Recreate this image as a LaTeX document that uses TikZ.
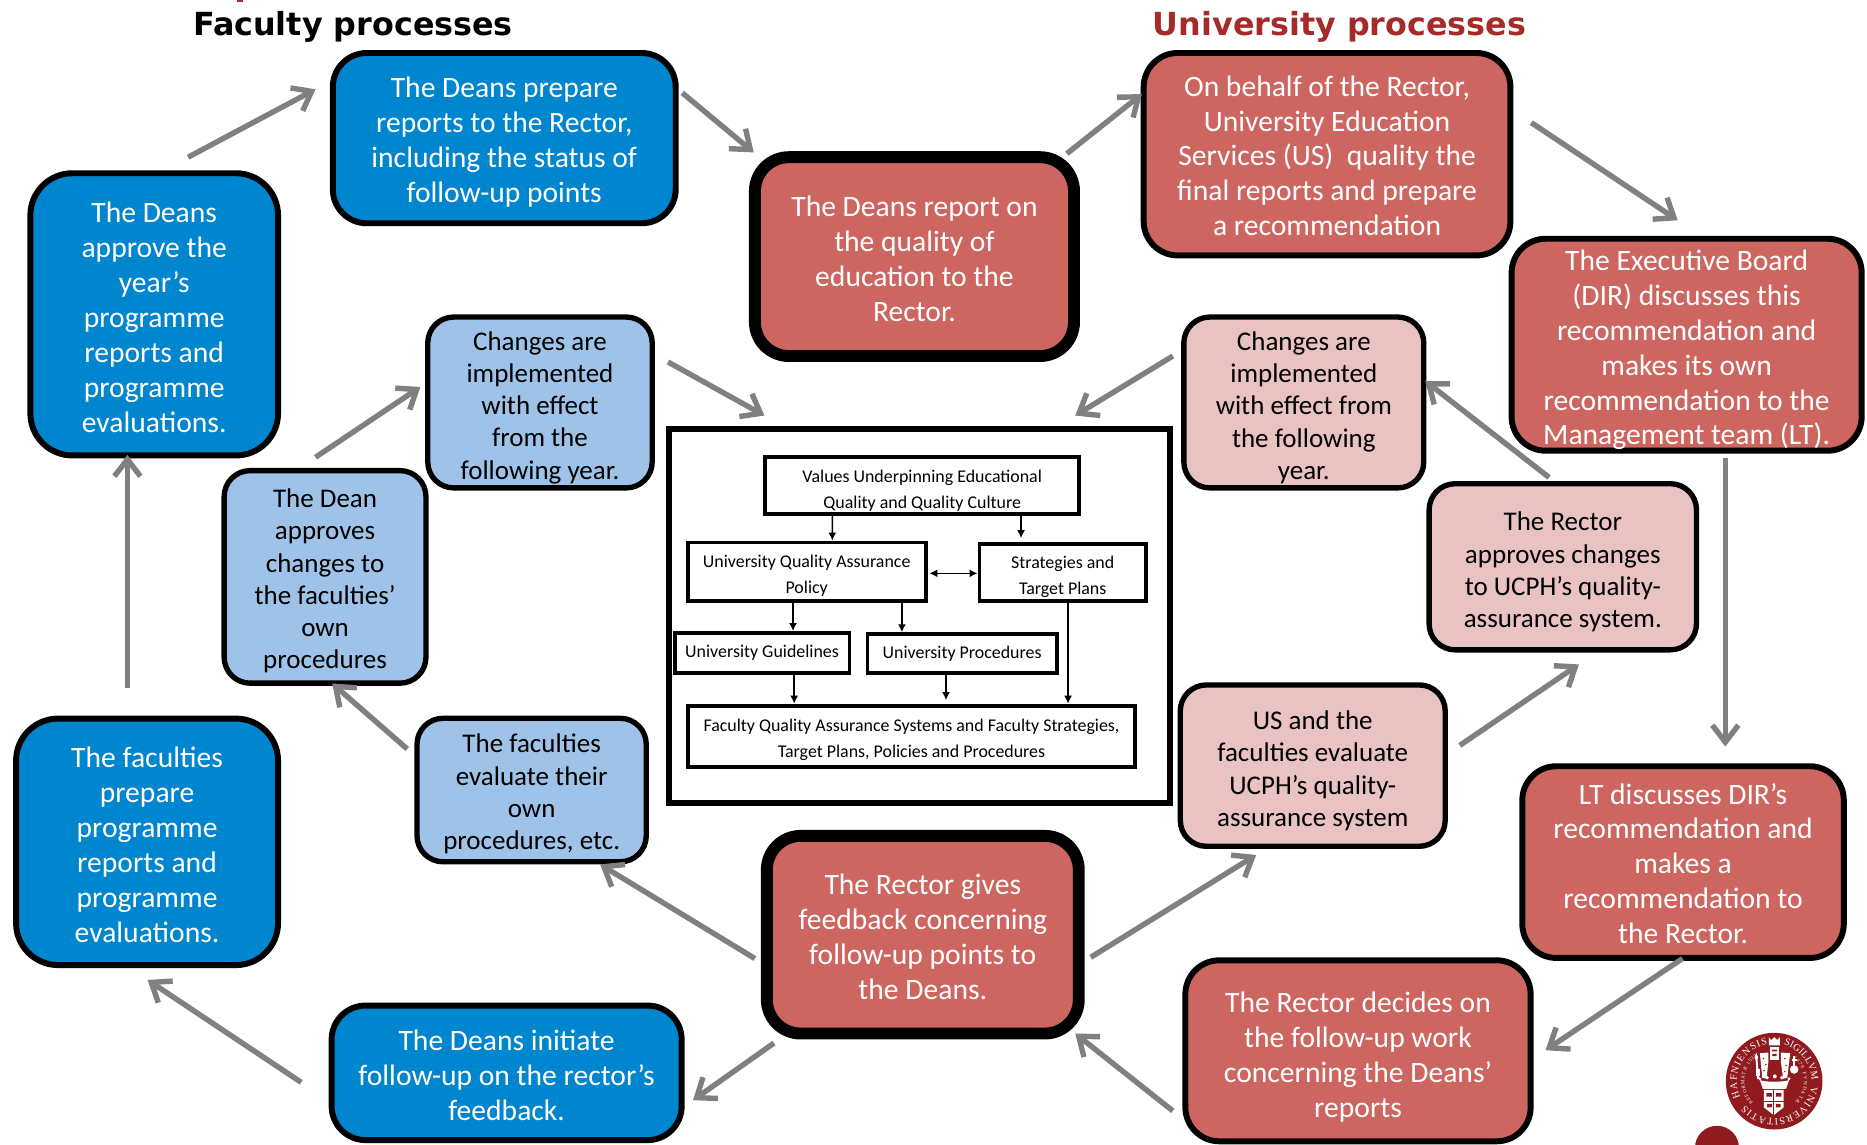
\documentclass[tikz,border=0pt]{standalone}
\usepackage{fontspec}
\setmainfont{Carlito}
\newfontfamily\titlefont{DejaVu Sans}
\newfontfamily\sealserif{Liberation Serif}
\usetikzlibrary{arrows.meta,decorations.text}
\definecolor{deepblue}{HTML}{0085CF}
\definecolor{softblue}{HTML}{9FC3E8}
\definecolor{brickred}{HTML}{CD6660}
\definecolor{softpink}{HTML}{E9C2C2}
\definecolor{arrowgray}{HTML}{808080}
\definecolor{titlered}{HTML}{A52A2A}
\definecolor{sealred}{HTML}{901A1E}
\newcommand{\procbox}[8]{%
  \node[#7,line width=#6*0.59535pt,
    minimum width={(#4-#2-#6)*0.59535pt},
    minimum height={(#5-#3-#6)*0.59535pt}] (#1) at ({(#2+#4)/2},{(#3+#5)/2}) {#8};}
\newcommand{\up}[1]{\rule{0pt}{#1pt}}
\tikzset{
  basebox/.style={draw=black,rounded corners=17pt,inner sep=0pt,align=center,
    font=\fontsize{14.8}{17.45}\selectfont},
  bluebox/.style={basebox,fill=deepblue,text=white},
  bigbluebox/.style={bluebox,rounded corners=21pt},
  redbox/.style={basebox,fill=brickred,text=white},
  lightbluebox/.style={basebox,fill=softblue,text=black,rounded corners=13pt,
    font=\fontsize{13.5}{16.1}\selectfont},
  pinkbox/.style={basebox,fill=softpink,text=black,rounded corners=13pt,
    font=\fontsize{13.5}{16.1}\selectfont},
  flow/.style={draw=arrowgray,line width=2.7pt,-{Straight Barb[length=8.5pt,width=13pt]}},
  innerbox/.style={draw=black,fill=white,inner sep=0pt,align=center,
    font=\fontsize{8.95}{13}\selectfont},
  frame/.style={draw=black,fill=white,inner sep=0pt},
  innerflow/.style={draw=black,line width=0.8pt,-{Latex[length=4pt,width=4pt]}},
  titletext/.style={font=\titlefont\bfseries\fontsize{15.9}{20}\selectfont,inner sep=0pt},
}
\begin{document}
\begin{tikzpicture}[x=0.59535pt,y=-0.59535pt]
\useasboundingbox (0,0) rectangle (1568,960.8);
\clip (0,0) rectangle (1568,960.8);
% cropped remnant of a heading at the top edge
\fill[titlered] (199,0) rectangle (204,1.5);
% titles
\node[titletext,text=black] (facT) at (296.5,22.5) {Faculty processes};
\node[titletext,text=titlered] (uniT) at (1125,22.5) {University processes};
% outer boxes
\procbox{A}{277}{42}{570}{190}{5}{bluebox}{\up{14.3}The Deans prepare\\reports to the Rector,\\including the status of\\follow-up points}
\procbox{B}{23}{143}{236}{385}{5}{bigbluebox}{\up{13.1}The Deans\\approve the\\year’s\\programme\\reports and\\programme\\evaluations.}
\procbox{C}{629}{127}{907}{304}{10}{redbox}{\up{12.5}The Deans report on\\the quality of\\education to the\\Rector.}
\procbox{D}{958}{42}{1271}{217}{5}{redbox}{\up{11.9}On behalf of the Rector,\\University Education\\Services (US)\ \ quality the\\final reports and prepare\\a recommendation}
\procbox{E}{1267}{198}{1566}{381}{5}{redbox}{\up{15.5}The Executive Board\\(DIR) discusses this\\recommendation and\\makes its own\\recommendation to the\\Management team (LT).}
\procbox{F}{357}{264}{550}{412}{4.5}{lightbluebox}{\up{14.6}Changes are\\implemented\\with effect\\from the\\following year.}
\procbox{G}{992}{264}{1198}{412}{4.5}{pinkbox}{\up{14.6}Changes are\\implemented\\with effect from\\the following\\year.}
\procbox{H}{186}{393}{360}{576}{4.5}{lightbluebox}{\up{13.4}The Dean\\approves\\changes to\\the faculties’\\own\\procedures}
\procbox{I}{1198}{404}{1427}{548}{4.5}{pinkbox}{\up{14.6}The Rector\\approves changes\\to UCPH’s quality-\\assurance system.}
\procbox{J}{348}{601}{545}{726}{4.5}{lightbluebox}{\up{13.4}The faculties\\evaluate their\\own\\procedures, etc.}
\procbox{K}{989}{573}{1216}{713}{4.5}{pinkbox}{\up{14.6}US and the\\faculties evaluate\\UCPH’s quality-\\assurance system}
\procbox{L}{11}{601}{236}{813}{5}{bigbluebox}{\up{13.1}The faculties\\prepare\\programme\\reports and\\programme\\evaluations.}
\procbox{M}{639}{697}{911}{873}{10}{redbox}{\up{12.5}The Rector gives\\feedback concerning\\follow-up points to\\the Deans.}
\procbox{N}{1276}{641}{1551}{807}{5}{redbox}{\up{11.9}LT discusses DIR’s\\recommendation and\\makes a\\recommendation to\\the Rector.}
\procbox{O}{993}{804}{1288}{961}{5}{redbox}{\up{16.6}The Rector decides on\\the follow-up work\\concerning the Deans’\\reports}
\procbox{P}{276}{842}{575}{960}{5}{bluebox}{\up{13.1}The Deans initiate\\follow-up on the rector’s\\feedback.}
% central framed chart
\procbox{Z}{559}{358}{985}{677}{5}{frame}{}
\procbox{V}{641}{382}{908}{433}{3.2}{innerbox}{\up{11.3}Values Underpinning Educational\\Quality and Quality Culture}
\procbox{Q}{576}{454}{779}{506}{3.2}{innerbox}{\up{10.1}University Quality Assurance\\Policy}
\procbox{S}{821}{455}{964}{506}{3.2}{innerbox}{\up{11.3}Strategies and\\Target Plans}
\procbox{GL}{565}{530}{715}{567}{3.2}{innerbox}{University Guidelines}
\procbox{PR}{727}{531}{889}{567}{3.2}{innerbox}{University Procedures}
\procbox{FA}{576}{591}{955}{646}{3.2}{innerbox}{\up{9.5}Faculty Quality Assurance Systems and Faculty Strategies,\\Target Plans, Policies and Procedures}
% inner connectors
\draw[innerflow] ([shift={(-75.5,25.5)}]V.center) -- ([shift={(21.5,-26)}]Q.center);
\draw[innerflow] ([shift={(83,25.5)}]V.center) -- ([shift={(-35,-28.5)}]S.center);
\draw[innerflow,{Latex[length=4pt,width=4pt]}-{Latex[length=4pt,width=4pt]}] ([shift={(103,1.5)}]Q.center) -- ([shift={(-71.5,1)}]S.center);
\draw[innerflow] ([shift={(-11.5,26)}]Q.center) -- ([shift={(26,-18.5)}]GL.center);
\draw[innerflow] ([shift={(80,26)}]Q.center) -- ([shift={(-50.5,-18)}]PR.center);
\draw[innerflow] ([shift={(27,18.5)}]GL.center) -- ([shift={(-98.5,-27.5)}]FA.center);
\draw[innerflow] ([shift={(-13.5,18)}]PR.center) -- ([shift={(29,-30.5)}]FA.center);
\draw[innerflow] ([shift={(4.5,25.5)}]S.center) -- ([shift={(131.5,-27.5)}]FA.center);
% process arrows
\draw[flow] ([shift={(28.5,-132)}]B.center) -- ([shift={(-158.5,-41)}]A.center);
\draw[flow] ([shift={(149.5,-38)}]A.center) -- ([shift={(-135,-87.5)}]C.center);
\draw[flow] ([shift={(128,-86.5)}]C.center) -- ([shift={(-155.5,-50.5)}]D.center);
\draw[flow] ([shift={(171.5,-26.5)}]D.center) -- ([shift={(-7.5,-104.5)}]E.center);
\draw[flow] ([shift={(32.5,95.5)}]E.center) -- ([shift={(35.5,-97)}]N.center);
\draw[flow] ([shift={(-0.5,81)}]N.center) -- ([shift={(157.5,-0.5)}]O.center);
\draw[flow] ([shift={(-155.5,50.5)}]O.center) -- ([shift={(128,83)}]M.center);
\draw[flow] ([shift={(141,19)}]M.center) -- ([shift={(-47.5,75)}]K.center);
\draw[flow] ([shift={(123.5,-17)}]K.center) -- ([shift={(13.5,82)}]I.center);
\draw[flow] ([shift={(-11.5,-75)}]I.center) -- ([shift={(102,-18)}]G.center);
\draw[flow] ([shift={(-110,-39)}]G.center) -- ([shift={(131,-168.5)}]Z.center);
\draw[flow] ([shift={(-141,20)}]M.center) -- ([shift={(57.5,62.5)}]J.center);
\draw[flow] ([shift={(-104.5,-34.5)}]J.center) -- ([shift={(6,89.5)}]H.center);
\draw[flow] ([shift={(-8,-100.5)}]H.center) -- ([shift={(-100.5,-13)}]F.center);
\draw[flow] ([shift={(107.5,-34)}]F.center) -- ([shift={(-130,-168.5)}]Z.center);
\draw[flow] ([shift={(-125,91)}]M.center) -- ([shift={(156.5,23)}]P.center);
\draw[flow] ([shift={(-172.5,8)}]P.center) -- ([shift={(0.5,116)}]L.center);
\draw[flow] ([shift={(-16.5,-129)}]L.center) -- ([shift={(-22.5,118)}]B.center);
% seal
\fill[sealred] (1442,964) circle (18.5);
\begin{scope}[shift={(1490,908)},x=0.59535pt,y=0.59535pt]
\fill[sealred] (0,0) circle (40.6);
\path[decorate,decoration={text along path,text align={fit to path},
  text={|\sealserif\fontsize{5}{6}\selectfont\color{white}|HAFNIENSIS}}]
  (0,0)++(205:31.5) arc[start angle=205,end angle=100,radius=31.5];
\path[decorate,decoration={text along path,text align={fit to path},
  text={|\sealserif\fontsize{5}{6}\selectfont\color{white}|SIGILLVM}}]
  (0,0)++(75:31.5) arc[start angle=75,end angle=5,radius=31.5];
\path[decorate,decoration={text along path,text align={fit to path},
  text={|\sealserif\fontsize{5}{6}\selectfont\color{white}|VNIVERSITATIS}}]
  (0,0)++(-8:31.5) arc[start angle=-8,end angle=-140,radius=31.5];
\path[decorate,decoration={text along path,text align={fit to path},
  text={|\sealserif\fontsize{2.5}{3}\selectfont\color{white}|REFORMATÆ 1537}}]
  (0,0)++(225:25) arc[start angle=225,end angle=125,radius=25];
\path[decorate,decoration={text along path,text align={fit to path},
  text={|\sealserif\fontsize{2.5}{3}\selectfont\color{white}|1479 FVNDATÆ}}]
  (0,0)++(50:25) arc[start angle=50,end angle=-45,radius=25];
\fill[white] (-4.5,30) -- (-4.5,37) -- (-2.5,34.5) -- (0,37) -- (2.5,34.5) -- (4.8,37) -- (4.8,30) -- cycle;
\fill[white] (-3.6,29) rectangle (4.2,18);
\fill[sealred] (-2,26.5) rectangle (2.5,25) (-1.5,23) rectangle (2,21);
\fill[white] (-12,23.5) -- (-4.8,24) -- (-4.8,17) -- (-6.4,2) -- (-10,3) -- cycle;
\fill[white] (5.6,24) -- (13.5,23.5) -- (11,3) -- (7.5,2) -- (5.6,17) -- cycle;
\fill[sealred] (-9,19) circle (0.7) (-7,14) circle (0.7) (-8.5,9) circle (0.7) (9,19) circle (0.7) (10,13) circle (0.7) (9,8) circle (0.7);
\draw[white,line width=1pt] (-15,21) -- (-13.5,2);
\fill[white] (-15,24) -- (-16.5,20) -- (-15,17) -- (-13.5,20) -- cycle;
\fill[white] (-15.5,10) rectangle (-12,4);
\fill[white] (16.8,9.8) circle (3.6);
\draw[white,line width=0.8pt] (16.8,12) -- (16.8,21.5) (14.6,18) -- (19,18);
\fill[white] (-12,2) circle (1.4) (-6,3) circle (1.6) (0.5,4) circle (1.7) (6.5,3) circle (1.6) (12.5,2) circle (1.4);
\fill[white] (-12,1) .. controls (-8,-1) and (8,-1) .. (12.6,1) -- (10,-6.5) -- (-9.5,-6.5) -- cycle;
\fill[white] (-8.7,-7.3) -- (8,-7.3) -- (8,-22) -- (-0.3,-28.5) -- (-8.7,-22) -- cycle;
\draw[sealred,line width=0.35pt] (-0.3,-7.3) -- (-0.3,-28) (-8.7,-17) -- (8,-17);
\fill[sealred] (-6.5,-10) rectangle (-2,-13) (1.5,-10) rectangle (6,-13) (-6,-19) rectangle (-2,-22) (1.5,-19) rectangle (5.5,-22);
\end{scope}
\end{tikzpicture}
\end{document}
